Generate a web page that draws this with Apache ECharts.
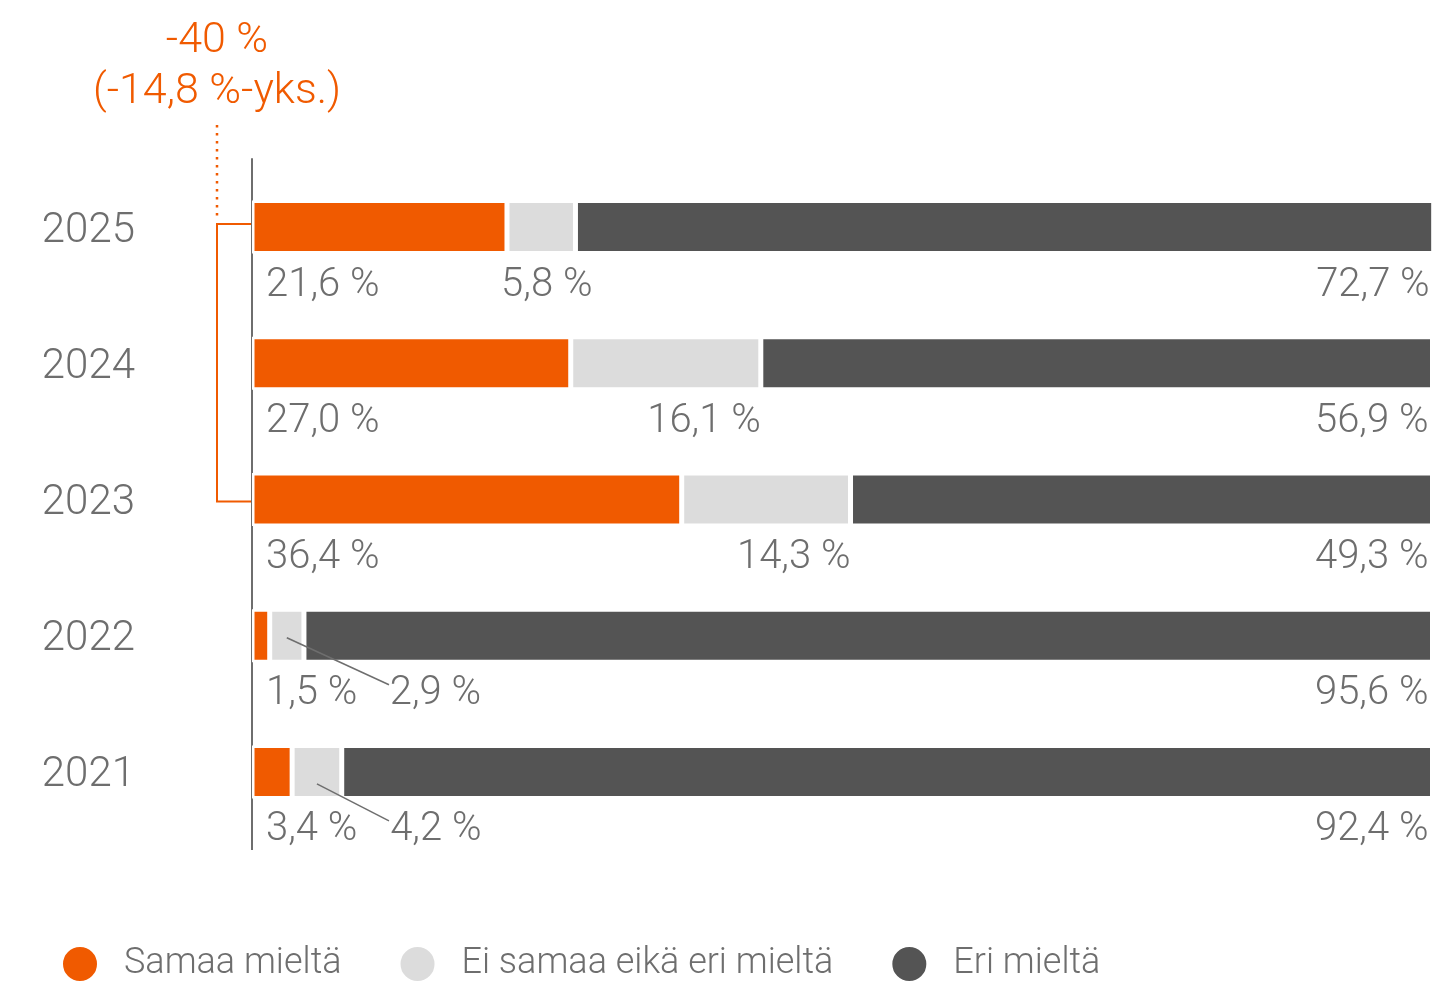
<!DOCTYPE html>
<html>
<head>
<meta charset="utf-8">
<script src="https://cdn.jsdelivr.net/npm/echarts@6/dist/echarts.min.js"></script>
<style>
  html, body { margin: 0; padding: 0; background: #fff; }
  #chart { width: 1439px; height: 981px; }
</style>
</head>
<body>
<div id="chart"></div>
<script>
const years = ['2025', '2024', '2023', '2022', '2021'];
const agree = [21.6, 27.0, 36.4, 1.5, 3.4];
const neutral = [5.8, 16.1, 14.3, 2.9, 4.2];
const disagree = [72.7, 56.9, 49.3, 95.6, 92.4];
const seriesNames = ['Samaa mieltä', 'Ei samaa eikä eri mieltä', 'Eri mieltä'];
const changeLines = ['-40 %', '(-14,8 %-yks.)'];

const ORANGE = '#f05a00';
const LIGHT = '#dcdcdc';
const DARK = '#545454';
const TEXT = '#6e6e6e';
const FONT = 'Roboto, "Noto Sans", sans-serif';
const GRID_TOP = 159;
const GRID_H = 681;

function pct(v) {
  return v.toFixed(1).replace('.', ',') + ' %';
}

const labelBase = {
  show: true,
  color: TEXT,
  fontFamily: FONT,
  fontWeight: 300,
  fontSize: 40,
  verticalAlign: 'middle',
  formatter: (p) => pct(p.value),
};

// small gray segments get their label moved out to the right
const neutralLabelShift = { 0: { offset: [17, 0] }, 3: { position: [120, 85], align: 'left' }, 4: { position: [98, 85], align: 'left' } };

const chart = echarts.init(document.getElementById('chart'), null, { renderer: 'canvas' });

const barCommon = {
  type: 'bar',
  stack: 'total',
  barWidth: 53,
  itemStyle: { borderColor: '#fff', borderWidth: 2.5 },
  emphasis: { disabled: true },
};

chart.setOption({
  animation: false,
  backgroundColor: '#fff',
  grid: { left: 252, right: 6.5, top: GRID_TOP, height: GRID_H },
  legend: {
    left: 61,
    top: 945,
    padding: 0,
    itemWidth: 36,
    itemHeight: 36,
    itemGap: 57,
    icon: 'circle',
    data: seriesNames,
    textStyle: { color: TEXT, fontFamily: FONT, fontWeight: 300, fontSize: 36, padding: [0, 0, 0, 21] },
  },
  xAxis: { type: 'value', min: 0, max: 100, show: false },
  yAxis: {
    type: 'category',
    data: years,
    inverse: true,
    axisLine: { show: true, lineStyle: { color: TEXT, width: 2 } },
    axisTick: { show: false },
    axisLabel: {
      color: TEXT, fontFamily: FONT, fontWeight: 300, fontSize: 42, margin: 117,
      verticalAlign: 'top', lineHeight: 8,
    },
  },
  series: [
    Object.assign({}, barCommon, {
      name: seriesNames[0],
      color: ORANGE,
      data: agree,
      label: Object.assign({}, labelBase, { position: [14, 85], align: 'left' }),
    }),
    Object.assign({}, barCommon, {
      name: seriesNames[1],
      color: LIGHT,
      data: neutral.map((v, i) => neutralLabelShift[i] ? { value: v, label: neutralLabelShift[i] } : v),
      label: Object.assign({}, labelBase, { position: ['100%', 85], align: 'right' }),
    }),
    Object.assign({}, barCommon, {
      name: seriesNames[2],
      color: DARK,
      data: disagree,
      label: Object.assign({}, labelBase, { position: ['100%', 85], align: 'right', offset: [-4, 0] }),
    }),
  ],
});

// annotations: bracket 2025 vs 2023, change text and leader lines for small segments
function px(value, idx) {
  return chart.convertToPixel({ seriesIndex: 0 }, [value, idx]);
}
const axisX = px(0, 0)[0];
const y2025 = px(0, 0)[1];
const y2023 = px(0, 2)[1];
const bx = axisX - 35;

const leaders = [3, 4].map((i) => {
  const start = px(agree[i] + neutral[i] / 2, i);
  const dy = i === 3 ? 2 : 12;
  return {
    type: 'line',
    shape: { x1: start[0], y1: start[1] + dy, x2: axisX + 137, y2: start[1] + 49 },
    style: { stroke: TEXT, lineWidth: 1.5 },
    z: 10,
  };
});

chart.setOption({
  graphic: [
    {
      type: 'line',
      shape: { x1: axisX, y1: GRID_TOP + GRID_H - 1, x2: axisX, y2: GRID_TOP + GRID_H + 10 },
      style: { stroke: TEXT, lineWidth: 2 },
    },
    {
      type: 'polyline',
      shape: { points: [[axisX, y2025 - 3], [bx, y2025 - 3], [bx, y2023 + 2], [axisX, y2023 + 2]] },
      style: { stroke: ORANGE, lineWidth: 2, fill: null },
    },
    {
      type: 'line',
      shape: { x1: bx, y1: 125, x2: bx, y2: y2025 - 10 },
      style: { stroke: ORANGE, lineWidth: 2.5, lineDash: [2.5, 5.5] },
    },
    {
      type: 'text',
      x: bx,
      y: 41,
      style: { text: changeLines[0], fill: ORANGE, font: '300 43px ' + FONT, align: 'center', verticalAlign: 'middle' },
    },
    {
      type: 'text',
      x: bx,
      y: 92,
      style: { text: changeLines[1], fill: ORANGE, font: '300 43px ' + FONT, align: 'center', verticalAlign: 'middle' },
    },
  ].concat(leaders),
});
</script>
</body>
</html>
